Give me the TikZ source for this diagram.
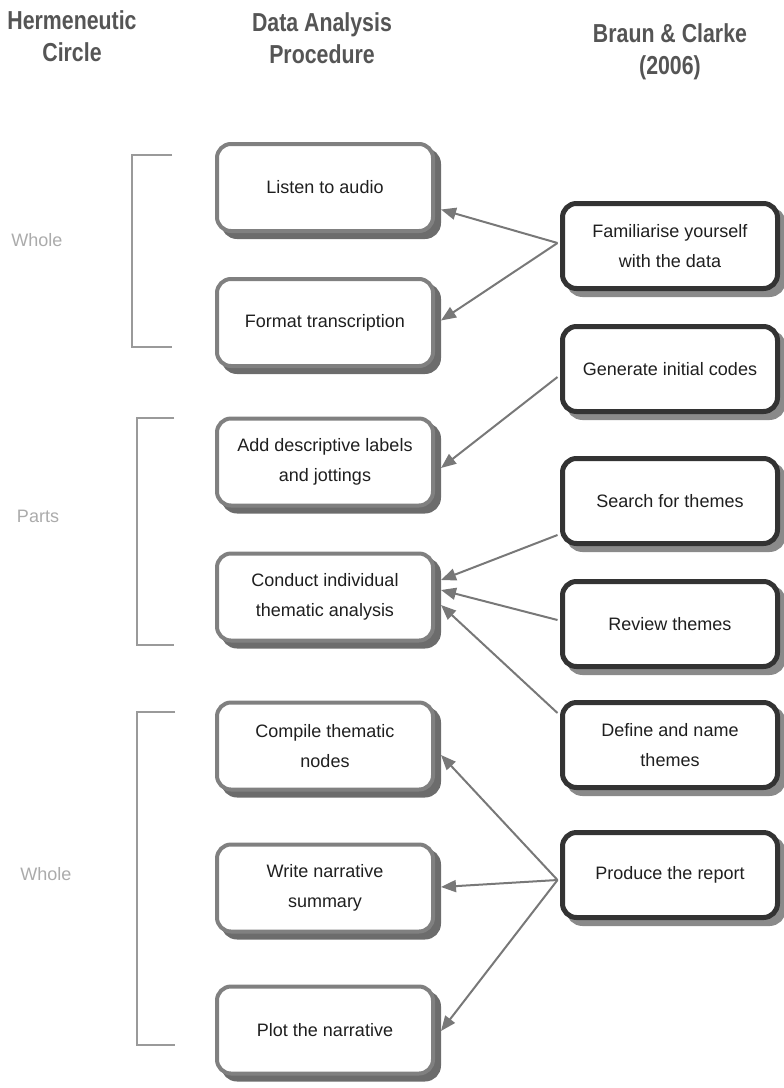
\documentclass[tikz,border=0pt]{standalone}
\usepackage{fontspec}
\setmainfont{Liberation Sans}
\newfontfamily\headfont[FakeStretch=0.82]{Liberation Sans}
\usetikzlibrary{arrows.meta, calc, shadows}
\definecolor{headgray}{HTML}{555555}
\definecolor{sidegray}{HTML}{ABABAB}
\definecolor{brackgray}{HTML}{9A9A9A}
\definecolor{dapgray}{HTML}{808080}
\definecolor{dapshadow}{HTML}{6C6C6C}
\definecolor{bcdark}{HTML}{333333}
\definecolor{bcshadow}{HTML}{8A8A8A}
\definecolor{arrgray}{HTML}{787878}

\begin{document}
\begin{tikzpicture}[x=1pt, y=-1pt, font=\fontsize{18}{30}\selectfont,
        head/.style={font=\headfont\bfseries\fontsize{26}{31.5}\selectfont, text=headgray, align=center},
        side/.style={text=sidegray},
        dapbox/.style={draw=dapgray, line width=4pt, rounded corners=14pt, fill=white, text=black!88,
          minimum width=216pt, minimum height=87pt, align=center,
          drop shadow={shadow xshift=6pt, shadow yshift=-6pt, fill=dapshadow, draw=dapshadow, line width=4pt, opacity=1}},
        bcbox/.style={draw=bcdark, line width=5pt, rounded corners=14pt, fill=white, text=black!88,
          minimum width=215pt, minimum height=85pt, align=center,
          drop shadow={shadow xshift=6pt, shadow yshift=-6pt, fill=bcshadow, draw=bcshadow, line width=5pt, opacity=1}},
        bracket/.style={draw=brackgray, line width=2pt},
        arr/.style={draw=arrgray, line width=2pt, -{Triangle[length=15pt, width=12pt]}},
      ]
        \useasboundingbox (0,0) rectangle (784,1088);

        % Column headings
        \node[head] (hhc) at (72, 36) {Hermeneutic\\Circle};
        \node[head] (hdap) at (322, 38) {Data Analysis\\Procedure};
        \node[head] (hbc) at (670, 52) {Braun \& Clarke\\(2006)};

        % Hermeneutic circle brackets
        \draw[bracket] (172,155) -- (132,155) -- (132,347) -- (172,347);
        \draw[bracket] (174,418) -- (137,418) -- (137,645) -- (174,645);
        \draw[bracket] (175,712) -- (137,712) -- (137,1045) -- (175,1045);
        \node[side] (whole1) at (37, 240) {Whole};
        \node[side] (parts) at (38, 516) {Parts};
        \node[side] (whole2) at (46, 874) {Whole};

        % Data analysis procedure
        \foreach \i/\y/\txt in {1/187.5/{Listen to audio}, 2/322.5/{Format transcription},
            3/462/{Add descriptive labels\\and jottings}, 4/597/{Conduct individual\\thematic analysis},
            5/746/{Compile thematic\\nodes}, 6/888/{Write narrative\\summary}, 7/1030/{Plot the narrative}} {
          \node[dapbox] (dap\i) at (325, \y) {\txt};
        }

        % Braun & Clarke phases
        \foreach \i/\y/\txt in {1/246/{Familiarise yourself\\with the data}, 2/369/{Generate initial codes},
            3/501/{Search for themes}, 4/624/{Review themes},
            5/745/{Define and name\\themes}, 6/875/{Produce the report}} {
          \node[bcbox] (bc\i) at (670, \y) {\txt};
        }

        % Phase to procedure arrows
        \draw[arr] ($(bc1.west)+(-2.5,-3)$) -- ($(dap1.east)+(6,22)$);
        \draw[arr] ($(bc1.west)+(-2.5,-3)$) -- ($(dap2.east)+(6,-2)$);
        \draw[arr] ($(bc2.west)+(-2.5,8)$) -- ($(dap3.east)+(6,6)$);
        \draw[arr] ($(bc3.west)+(-2.5,34)$) -- ($(dap4.east)+(6,-17)$);
        \draw[arr] ($(bc4.west)+(-2.5,-4)$) -- ($(dap4.east)+(6,-7)$);
        \draw[arr] ($(bc5.west)+(-2.5,-32)$) -- ($(dap4.east)+(6,8)$);
        \draw[arr] ($(bc6.west)+(-2.5,5)$) -- ($(dap5.east)+(6,9)$);
        \draw[arr] ($(bc6.west)+(-2.5,5)$) -- ($(dap6.east)+(6,-1)$);
        \draw[arr] ($(bc6.west)+(-2.5,5)$) -- ($(dap7.east)+(6,1)$);
      \end{tikzpicture}
\end{document}
